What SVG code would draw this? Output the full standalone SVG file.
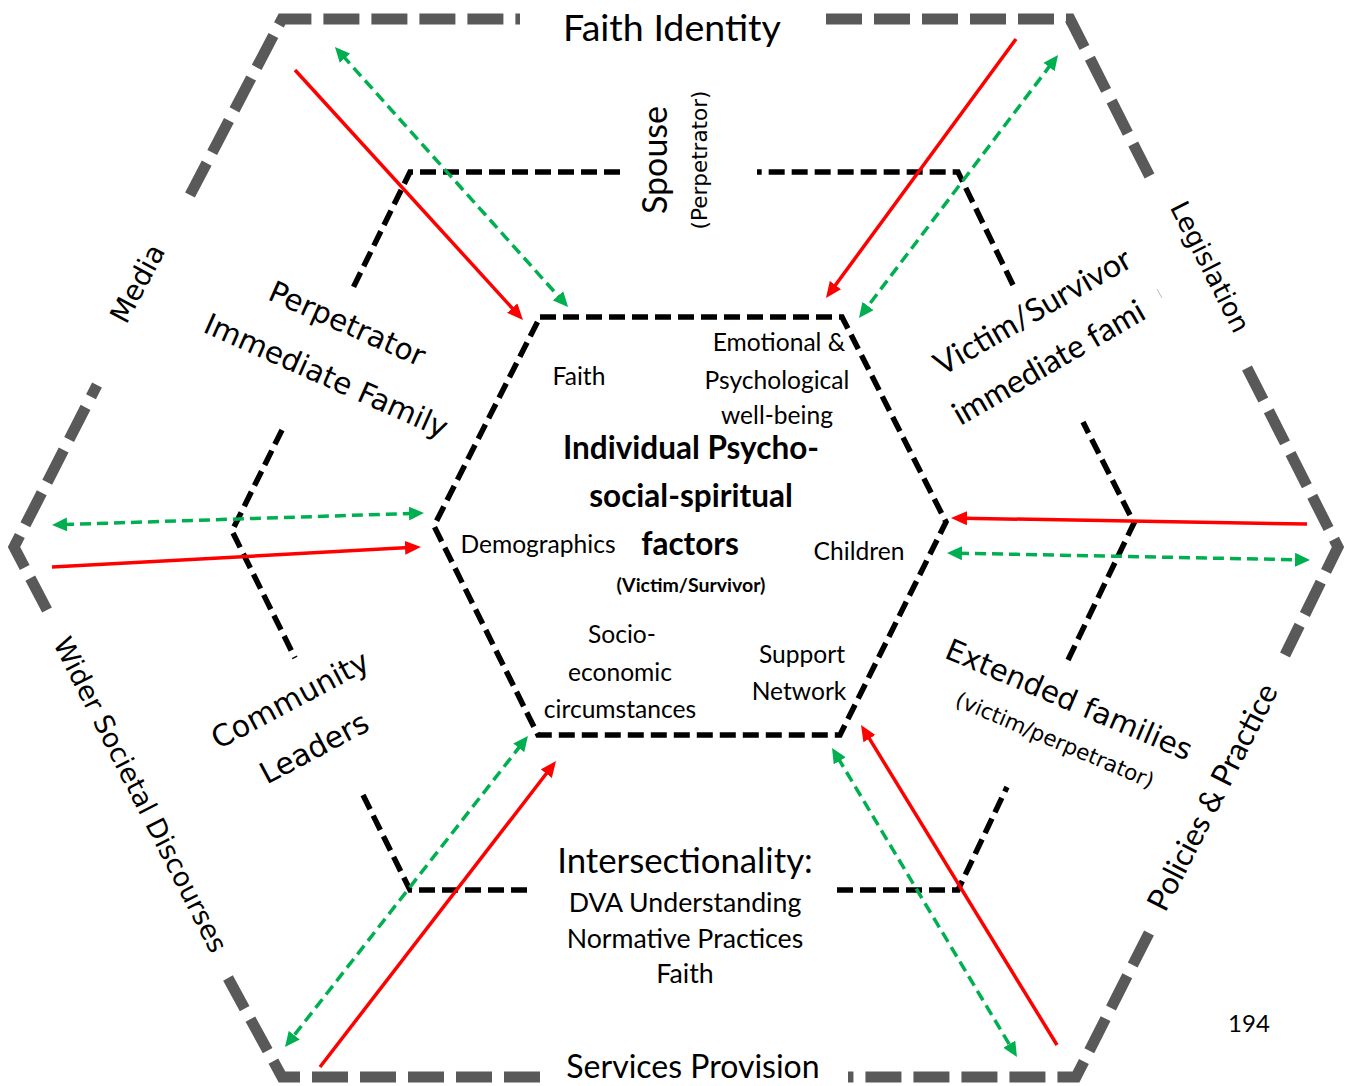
<svg xmlns="http://www.w3.org/2000/svg" width="1352" height="1086" viewBox="0 0 1352 1086">
  <defs>
    <marker id="head-red" markerUnits="userSpaceOnUse" markerWidth="16" markerHeight="14" refX="4" refY="7" orient="auto">
      <path d="M0,0 L16,7 L0,14 z" fill="#ff0000"/>
    </marker>
    <marker id="head-green" markerUnits="userSpaceOnUse" markerWidth="15" markerHeight="14" refX="4" refY="7" orient="auto-start-reverse">
      <path d="M0,0 L15,7 L0,14 z" fill="#00b050"/>
    </marker>
    <style>
      .outer{fill:none;stroke:#595959;stroke-width:11;stroke-dasharray:36 12;stroke-linejoin:miter}
      .ring{fill:none;stroke:#000;stroke-width:5.5;stroke-dasharray:16 7;stroke-linejoin:miter}
      .red{fill:none;stroke:#ff0000;stroke-width:3.5;marker-end:url(#head-red)}
      .green{fill:none;stroke:#00b050;stroke-width:3.5;stroke-dasharray:11 6;marker-start:url(#head-green);marker-end:url(#head-green)}
      text{text-anchor:middle;fill:#000}
      .cal{font-family:Lato,"Liberation Sans",sans-serif}
      .dv{font-family:"DejaVu Sans",sans-serif}
      .b{font-weight:bold}
    </style>
  </defs>
  <rect width="1352" height="1086" fill="#fff"/>

  <!-- outer ring: societal layer, broken where its labels sit -->
  <g id="outer-ring">
    <path class="outer" d="M190,195 L282,19 L520,19"/>
    <path class="outer" d="M826,19 L1070,19 L1150,177"/>
    <path class="outer" d="M1247,368 L1338,547 L1285,655"/>
    <path class="outer" d="M1149,933 L1076,1077 L848,1077"/>
    <path class="outer" d="M540,1077 L282,1077 L228,978"/>
    <path class="outer" d="M47,610 L14,547 L97,385"/>
  </g>

  <!-- middle ring: family and community layer -->
  <g id="middle-ring">
    <path class="ring" d="M620,172 L410,172 L352,290"/>
    <path class="ring" d="M282,430 L232,531 L295,658"/>
    <path class="ring" d="M363,795 L410,890 L533,890"/>
    <path class="ring" d="M837,890 L958,890 L1007,787"/>
    <path class="ring" d="M1068,660 L1134,523 L1083,422"/>
    <path class="ring" d="M1013,285 L958,172 L757,172"/>
  </g>

  <!-- core: individual factors -->
  <g id="core">
    <path class="ring" d="M540,317 L842,317 L946,522 L840,735 L538,735 L434,526 Z"/>
    <g class="cal" font-size="24.6">
      <text x="579" y="385">Faith</text>
      <text x="779" y="351">Emotional &amp;</text>
      <text x="777" y="389">Psychological</text>
      <text x="777" y="424">well-being</text>
      <text x="538" y="553">Demographics</text>
      <text x="859" y="560">Children</text>
      <text x="622" y="643">Socio-</text>
      <text x="620" y="681">economic</text>
      <text x="620" y="718">circumstances</text>
      <text x="802" y="663">Support</text>
      <text x="799" y="700">Network</text>
    </g>
    <g class="cal b" font-size="31.5">
      <text x="691" y="459">Individual Psycho-</text>
      <text x="691" y="507">social-spiritual</text>
      <text x="690" y="555">factors</text>
      <text x="691" y="592" font-size="19.5">(Victim/Survivor)</text>
    </g>
  </g>

  <!-- middle ring labels -->
  <g id="spouse">
    <text class="cal" font-size="34" transform="translate(667,160) rotate(-90)">Spouse</text>
    <text class="dv" font-size="21.5" transform="translate(707,160) rotate(-90)">(Perpetrator)</text>
  </g>
  <g id="perpetrator-family" class="dv" font-size="29.5">
    <text transform="translate(343,333) rotate(24)">Perpetrator</text>
    <text transform="translate(322,385) rotate(24)">Immediate Family</text>
  </g>
  <g id="victim-family" class="cal" font-size="32">
    <text transform="translate(1038,321) rotate(-30)">Victim/Survivor</text>
    <text transform="translate(1054,372) rotate(-30)">immediate fami</text>
    <line x1="1157" y1="289" x2="1162" y2="298" stroke="#bbb" stroke-width="1"/>
  </g>
  <g id="community-leaders" class="dv" font-size="30">
    <text transform="translate(295,709) rotate(-28)">Community</text>
    <text transform="translate(319,757) rotate(-28)">Leaders</text>
  </g>
  <g id="extended-families" class="dv">
    <text font-size="29.5" transform="translate(1065,709) rotate(23)">Extended families</text>
    <text font-size="21.5" transform="translate(1052,747) rotate(23)">(victim/perpetrator)</text>
  </g>
  <g id="intersectionality" class="cal">
    <text x="685" y="873" font-size="34.8">Intersectionality:</text>
    <text x="685" y="912" font-size="26.7">DVA Understanding</text>
    <text x="685" y="948" font-size="26.7">Normative Practices</text>
    <text x="685" y="983" font-size="26.7">Faith</text>
  </g>

  <!-- outer ring labels -->
  <g id="faith-identity"><text class="cal" x="672" y="41" font-size="37.6">Faith Identity</text></g>
  <g id="legislation"><text class="dv" font-size="26.5" transform="translate(1202,271) rotate(63)">Legislation</text></g>
  <g id="policies-practice"><text class="cal" font-size="31" transform="translate(1222,802) rotate(-63)">Policies &amp; Practice</text></g>
  <g id="services-provision"><text class="cal" x="693" y="1078" font-size="32">Services Provision</text></g>
  <g id="wider-societal"><text class="dv" font-size="27" transform="translate(132,799) rotate(63)">Wider Societal Discourses</text></g>
  <g id="media"><text class="dv" font-size="28" transform="translate(146,288) rotate(-62)">Media</text></g>

  <text class="cal" x="1249" y="1032" font-size="24">194</text>

  <!-- connectors: red = one-way influence, green dashed = two-way -->
  <g id="connectors">
    <line class="red" x1="295" y1="70" x2="514.9" y2="311.1"/>
    <line class="green" x1="342.3" y1="55.2" x2="560.7" y2="298.8"/>
    <line class="red" x1="1016" y1="39" x2="833.1" y2="288.3"/>
    <line class="green" x1="1051.4" y1="63.8" x2="865.6" y2="309.2"/>
    <line class="green" x1="63" y1="524.6" x2="413" y2="513.4"/>
    <line class="red" x1="52" y1="567" x2="409" y2="547.6"/>
    <line class="red" x1="1307" y1="524" x2="963" y2="518.2"/>
    <line class="green" x1="958" y1="553.2" x2="1299" y2="559.8"/>
    <line class="green" x1="521.2" y1="744.7" x2="291.8" y2="1038.3"/>
    <line class="red" x1="320" y1="1067" x2="548.7" y2="770.5"/>
    <line class="green" x1="837.7" y1="757.4" x2="1011.3" y2="1047.6"/>
    <line class="red" x1="1057" y1="1045" x2="867.3" y2="735.2"/>
  </g>
</svg>
